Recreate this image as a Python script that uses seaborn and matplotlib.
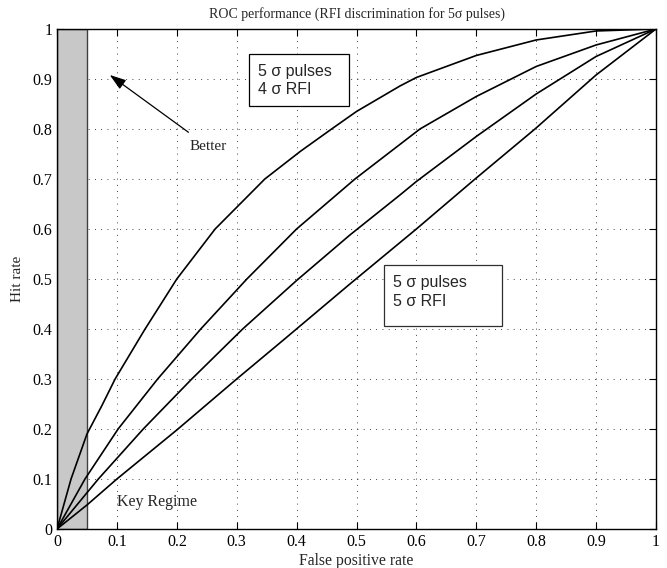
import matplotlib
matplotlib.use("Agg")
import matplotlib.pyplot as plt
from matplotlib.patches import Rectangle
import seaborn as sns
import pandas as pd

# ROC curves: false positive rate vs hit rate
fpr_a = [0.0, 0.0234, 0.05, 0.075, 0.097, 0.146, 0.2, 0.264, 0.347, 0.406, 0.4585,
         0.5, 0.5726, 0.6, 0.7, 0.8, 0.9, 1.0]
hit_a = [0.0, 0.10, 0.19, 0.247, 0.30, 0.398, 0.50, 0.60, 0.70, 0.755, 0.80,
         0.835, 0.886, 0.903, 0.947, 0.978, 0.996, 1.0]

fpr_b = [0.0, 0.0467, 0.102, 0.168, 0.24, 0.317, 0.40, 0.4975, 0.606,
         0.7, 0.8, 0.9, 1.0]
hit_b = [0.0, 0.10, 0.20, 0.30, 0.40, 0.50, 0.60, 0.70, 0.80,
         0.865, 0.925, 0.968, 1.0]

fpr_c = [0.0, 0.069, 0.144, 0.225, 0.31, 0.40, 0.489, 0.5726, 0.60, 0.7, 0.8, 0.9, 1.0]
hit_c = [0.0, 0.10, 0.20, 0.30, 0.40, 0.497, 0.588, 0.668, 0.695, 0.785, 0.870, 0.945, 1.0]

fpr_d = [0.0, 0.05, 0.1, 0.2, 0.3, 0.378, 0.489, 0.6, 0.698, 0.798, 0.9, 1.0]
hit_d = [0.0, 0.048, 0.10, 0.198, 0.30, 0.378, 0.49, 0.60, 0.70, 0.80, 0.908, 1.0]

ticks = [0, 0.1, 0.2, 0.3, 0.4, 0.5, 0.6, 0.7, 0.8, 0.9, 1]
tick_labels = ["0", "0.1", "0.2", "0.3", "0.4", "0.5", "0.6", "0.7", "0.8", "0.9", "1"]
key_regime_limit = 0.05

sns.set_style("ticks")
plt.rcParams["font.family"] = ["Liberation Serif", "DejaVu Serif"]

fig = plt.figure(figsize=(6.67, 5.68), dpi=100)
ax = fig.add_axes([0.0855, 0.0687, 0.898, 0.8803])

# shaded low false-positive region
ax.axvspan(0, key_regime_limit, facecolor="#c8c8c8", edgecolor="#404040", linewidth=1.0, zorder=1)

curves = pd.concat([
    pd.DataFrame({"fpr": fpr_a, "hit": hit_a, "curve": "a"}),
    pd.DataFrame({"fpr": fpr_b, "hit": hit_b, "curve": "b"}),
    pd.DataFrame({"fpr": fpr_c, "hit": hit_c, "curve": "c"}),
    pd.DataFrame({"fpr": fpr_d, "hit": hit_d, "curve": "d"}),
])
sns.lineplot(data=curves, x="fpr", y="hit", units="curve", estimator=None,
             color="black", linewidth=1.2, sort=False, ax=ax, zorder=3)

ax.set_xlim(0, 1)
ax.set_ylim(0, 1)
ax.set_xticks(ticks)
ax.set_xticklabels(tick_labels)
ax.set_yticks(ticks)
ax.set_yticklabels(tick_labels)
ax.tick_params(direction="in", length=5, width=0.8, labelsize=11.5,
               top=True, right=True, colors="black")
ax.grid(True, linestyle=(0, (1, 6.5)), color="black", linewidth=0.6)
for s in ax.spines.values():
    s.set_linewidth(1.0)
    s.set_color("black")

ax.set_title("ROC performance (RFI discrimination for 5σ pulses)", fontsize=10, pad=8)
ax.set_xlabel("False positive rate", fontsize=11.3, labelpad=2)
ax.set_ylabel("Hit rate", fontsize=11, labelpad=6)

# annotation boxes
sans = ["Liberation Sans", "DejaVu Sans"]
ax.add_patch(Rectangle((0.321, 0.846), 0.1665, 0.103, facecolor="white",
                       edgecolor="black", linewidth=0.9, zorder=4))
ax.text(0.3356, 0.906, "5 σ pulses", family=sans, fontsize=11.5, va="baseline", zorder=5)
ax.text(0.3356, 0.869, "4 σ RFI", family=sans, fontsize=11.5, va="baseline", zorder=5)

ax.add_patch(Rectangle((0.546, 0.406), 0.1965, 0.122, facecolor="white",
                       edgecolor="#303030", linewidth=0.9, zorder=4))
ax.text(0.5614, 0.483, "5 σ pulses", family=sans, fontsize=11.5, va="baseline", zorder=5)
ax.text(0.5614, 0.445, "5 σ RFI", family=sans, fontsize=11.5, va="baseline", zorder=5)

ax.annotate("Better", xy=(0.088, 0.908), xytext=(0.222, 0.764),
            fontsize=11, ha="left", va="center",
            arrowprops=dict(arrowstyle="-|>,head_length=0.9,head_width=0.3",
                            color="black", linewidth=0.9, shrinkA=6, shrinkB=0))
ax.text(0.1, 0.054, "Key Regime", fontsize=11.5, ha="left", va="center")

fig.savefig("out.png", dpi=100)
